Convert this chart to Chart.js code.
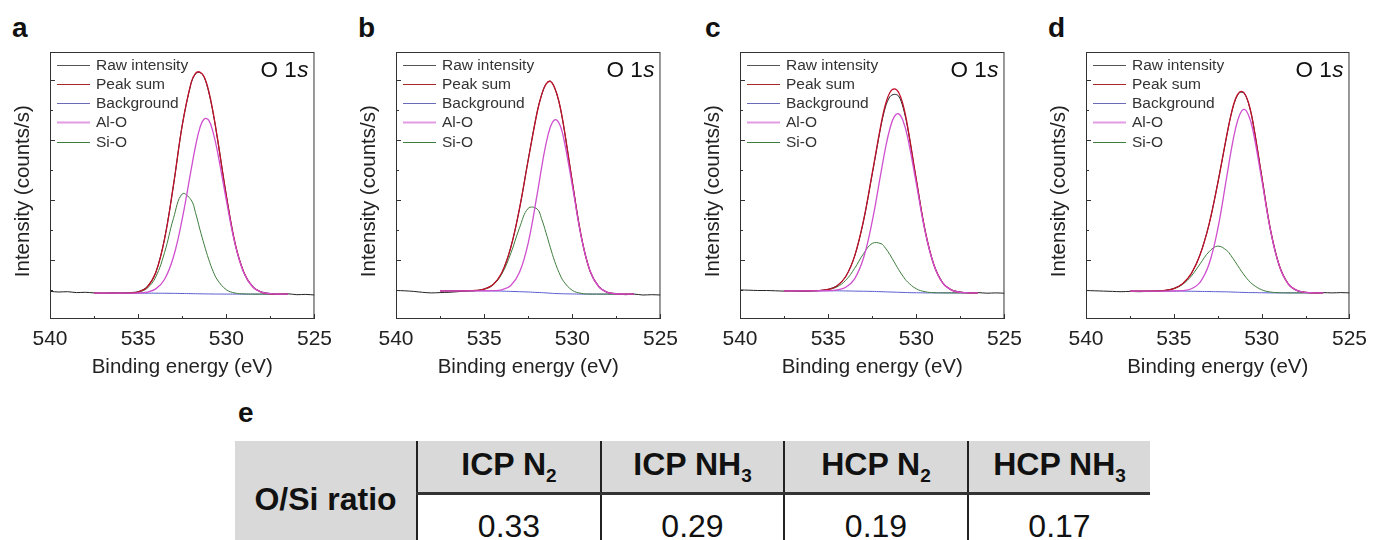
<!DOCTYPE html>
<html>
<head>
<meta charset="utf-8">
<script src="https://cdn.jsdelivr.net/npm/chart.js@4.4.1/dist/chart.umd.min.js"></script>
<style>
  html, body { margin: 0; padding: 0; width: 1375px; height: 540px; overflow: hidden; background: #fff; }
  body { position: relative; font-family: Arial, 'Liberation Sans', sans-serif; color: #111; }
  .panel { position: absolute; top: 0; height: 390px; }
  .letter { position: absolute; font-weight: bold; font-size: 28px; line-height: 28px; color: #111; }
  table.ratio { position: absolute; left: 235px; top: 441px; border-collapse: collapse; table-layout: fixed; width: 915px; }
  table.ratio th, table.ratio td { padding: 0; text-align: center; line-height: 1; color: #111; }
  table.ratio th { font-weight: bold; font-size: 32px; background: #d9d9d9; height: 51px; border-left: 2px solid #222; border-bottom: 3px solid #333; }
  table.ratio th.rowhead { border-left: none; border-bottom: none; border-right: 2px solid #222; vertical-align: middle; }
  table.ratio td { font-size: 32px; height: 62px; border-left: 2px solid #222; background: #fff; }
  table.ratio .sub { font-size: 19px; vertical-align: -7px; }
</style>
</head>
<body>
<div class="letter" style="left:12px;top:14px">a</div>
<div class="letter" style="left:358px;top:14px">b</div>
<div class="letter" style="left:705px;top:14px">c</div>
<div class="letter" style="left:1048px;top:14px">d</div>
<div class="letter" style="left:238px;top:399px">e</div>

<div class="panel" style="left:0;width:340px"><canvas id="chart-a"></canvas></div>
<div class="panel" style="left:346px;width:340px"><canvas id="chart-b"></canvas></div>
<div class="panel" style="left:690px;width:340px"><canvas id="chart-c"></canvas></div>
<div class="panel" style="left:1036px;width:339px"><canvas id="chart-d"></canvas></div>

<table class="ratio" id="ratio-table"></table>

<script>
// binding energy grids (eV)
const rawEnergy = [540, 539.5, 539, 538.5, 538, 537.5, 537, 536.5, 536, 535.5, 535, 534.5, 534, 533.5, 533, 532.5, 532, 531.75, 531.5, 531.25, 531, 530.75, 530.5, 530, 529.5, 529, 528.5, 528, 527.5, 527, 526.5, 526, 525.5, 525];
const fitEnergy = [537.5, 537, 536.5, 536, 535.5, 535, 534.5, 534, 533.5, 533, 532.5, 532, 531.75, 531.5, 531.25, 531, 530.75, 530.5, 530, 529.5, 529, 528.5, 528, 527.5, 527, 526.5];

const seriesNames = ['Raw intensity', 'Peak sum', 'Background', 'Al-O', 'Si-O'];
const lineColors = ['#222222', '#c0102a', '#5a5ad0', '#cf4fcf', '#3d7d3d'];
const legendColors = ['#555555', '#a82828', '#6a6ab8', '#e49ae4', '#3d7d3d'];

// (a) ICP N2
const rawA = [-0.05, -0.07, -0.06, -0.09, -0.08, -0.1, -0.12, -0.1, -0.11, -0.09, -0.06, 0.1, 0.58, 1.72, 3.47, 5.5, 6.88, 7.2, 7.25, 7.08, 6.6, 5.9, 5.03, 3.15, 1.53, 0.58, 0.11, -0.07, -0.12, -0.15, -0.13, -0.16, -0.15, -0.17];
const sumA = [-0.11, -0.11, -0.11, -0.11, -0.105, -0.07, 0.085, 0.58, 1.7, 3.49, 5.48, 6.9, 7.22, 7.26, 7.1, 6.63, 5.92, 5.04, 3.14, 1.55, 0.57, 0.1, -0.08, -0.13, -0.14, -0.14];
const bgA = [-0.11, -0.11, -0.11, -0.11, -0.11, -0.11, -0.11, -0.11, -0.112, -0.115, -0.12, -0.125, -0.128, -0.13, -0.133, -0.135, -0.137, -0.138, -0.14, -0.14, -0.14, -0.14, -0.14, -0.14, -0.14, -0.14];
const alA = [-0.11, -0.11, -0.11, -0.11, -0.11, -0.103, -0.075, 0.034, 0.354, 1.095, 2.37, 3.99, 4.78, 5.4, 5.7, 5.66, 5.25, 4.6, 2.99, 1.515, 0.56, 0.096, -0.077, -0.126, -0.138, -0.14];
const siA = [-0.11, -0.11, -0.11, -0.109, -0.105, -0.076, 0.05, 0.435, 1.25, 2.38, 3.2, 3.0, 2.58, 2.02, 1.5, 1.02, 0.62, 0.33, 0.006, -0.105, -0.134, -0.14, -0.14, -0.14, -0.14, -0.14];

// (b) ICP NH3
const rawB = [-0.02, -0.03, -0.05, -0.08, -0.1, -0.09, -0.08, -0.06, -0.04, -0.03, 0.03, 0.18, 0.56, 1.4, 2.69, 4.35, 5.92, 6.48, 6.86, 6.96, 6.72, 6.25, 5.49, 3.6, 1.8, 0.63, 0.12, -0.09, -0.12, -0.16, -0.14, -0.17, -0.16, -0.17];
const sumB = [-0.03, -0.03, -0.03, -0.028, -0.019, 0.024, 0.172, 0.573, 1.39, 2.7, 4.33, 5.905, 6.49, 6.85, 6.95, 6.74, 6.255, 5.5, 3.595, 1.81, 0.64, 0.11, -0.08, -0.13, -0.138, -0.14];
const bgB = [-0.03, -0.03, -0.03, -0.03, -0.03, -0.03, -0.035, -0.04, -0.05, -0.06, -0.07, -0.085, -0.09, -0.1, -0.11, -0.12, -0.125, -0.13, -0.135, -0.14, -0.14, -0.14, -0.14, -0.14, -0.14, -0.14];
const alB = [-0.03, -0.03, -0.03, -0.03, -0.03, -0.029, -0.027, 0.003, 0.14, 0.576, 1.57, 3.165, 4.05, 4.85, 5.42, 5.67, 5.555, 5.08, 3.475, 1.78, 0.64, 0.106, -0.081, -0.129, -0.138, -0.14];
const siB = [-0.03, -0.03, -0.03, -0.028, -0.019, 0.023, 0.164, 0.53, 1.2, 2.06, 2.72, 2.7, 2.38, 1.92, 1.42, 0.95, 0.575, 0.29, -0.015, -0.114, -0.138, -0.14, -0.14, -0.14, -0.14, -0.14];

// (c) HCP N2
const rawC = [0, -0.01, -0.02, -0.02, -0.03, -0.04, -0.03, -0.05, -0.04, -0.02, 0.02, 0.14, 0.45, 1.12, 2.28, 3.86, 5.48, 6.1, 6.44, 6.52, 6.46, 6.08, 5.43, 3.66, 1.97, 0.83, 0.24, 0, -0.07, -0.1, -0.09, -0.11, -0.1, -0.11];
const sumC = [-0.03, -0.03, -0.03, -0.028, -0.021, 0.014, 0.13, 0.446, 1.126, 2.299, 3.89, 5.526, 6.18, 6.58, 6.7, 6.58, 6.166, 5.467, 3.676, 1.978, 0.831, 0.23, -0.005, -0.079, -0.096, -0.099];
const bgC = [-0.03, -0.03, -0.03, -0.03, -0.03, -0.03, -0.03, -0.035, -0.04, -0.045, -0.05, -0.06, -0.065, -0.07, -0.075, -0.08, -0.085, -0.09, -0.095, -0.1, -0.1, -0.1, -0.1, -0.1, -0.1, -0.1];
const alC = [-0.03, -0.03, -0.03, -0.03, -0.029, -0.024, -0.001, 0.089, 0.37, 1.053, 2.29, 3.926, 4.725, 5.37, 5.775, 5.87, 5.63, 5.11, 3.545, 1.94, 0.823, 0.228, -0.007, -0.079, -0.096, -0.099];
const siC = [-0.03, -0.03, -0.03, -0.0285, -0.022, 0.008, 0.101, 0.322, 0.716, 1.201, 1.55, 1.54, 1.391, 1.176, 0.925, 0.676, 0.451, 0.267, 0.036, -0.062, -0.092, -0.0985, -0.1, -0.1, -0.1, -0.1];

// (d) HCP NH3
const rawD = [-0.02, -0.03, -0.04, -0.05, -0.06, -0.05, -0.06, -0.05, -0.04, -0.02, 0.05, 0.2, 0.55, 1.19, 2.17, 3.56, 5.1, 5.82, 6.33, 6.58, 6.56, 6.22, 5.6, 3.8, 2, 0.82, 0.22, -0.02, -0.08, -0.1, -0.09, -0.1, -0.09, -0.1];
const sumD = [-0.04, -0.04, -0.039, -0.035, -0.018, 0.042, 0.203, 0.549, 1.181, 2.178, 3.55, 5.111, 5.816, 6.354, 6.6, 6.57, 6.239, 5.6, 3.794, 2.019, 0.815, 0.211, -0.016, -0.082, -0.097, -0.1];
const bgD = [-0.04, -0.04, -0.04, -0.04, -0.04, -0.04, -0.04, -0.045, -0.05, -0.055, -0.06, -0.065, -0.07, -0.075, -0.08, -0.085, -0.09, -0.09, -0.095, -0.1, -0.1, -0.1, -0.1, -0.1, -0.1, -0.1];
const alD = [-0.04, -0.04, -0.04, -0.04, -0.04, -0.037, -0.022, 0.039, 0.26, 0.853, 2.03, 3.725, 4.6, 5.345, 5.84, 6.015, 5.83, 5.33, 3.695, 1.99, 0.808, 0.21, -0.016, -0.082, -0.097, -0.1];
const siD = [-0.04, -0.04, -0.039, -0.035, -0.018, 0.039, 0.185, 0.465, 0.871, 1.27, 1.46, 1.321, 1.146, 0.934, 0.71, 0.499, 0.319, 0.18, 0.004, -0.071, -0.093, -0.099, -0.1, -0.1, -0.1, -0.1];

// (e) table
const sampleNames = [['ICP N', '2'], ['ICP NH', '3'], ['HCP N', '2'], ['HCP NH', '3']];
const oSiRatio = ['0.33', '0.29', '0.19', '0.17'];

const FONT = "Arial, 'Liberation Sans', sans-serif";
Chart.defaults.font.family = FONT;
Chart.defaults.color = '#222';

// box, inward ticks, legend and the "O 1s" tag
const panelDecor = {
  id: 'panelDecor',
  afterDraw(chart) {
    const { ctx, chartArea: a, scales: { x, y } } = chart;
    ctx.save();
    ctx.strokeStyle = '#333';
    ctx.lineWidth = 1;
    ctx.strokeRect(a.left + 0.5, a.top + 0.5, a.right - a.left - 1, a.bottom - a.top - 1);

    ctx.beginPath();
    x.ticks.forEach((t, i) => {
      const px = Math.round(x.getPixelForValue(t.value)) + 0.5;
      ctx.moveTo(px, a.bottom);
      ctx.lineTo(px, a.bottom - 5);
      if (i < x.ticks.length - 1) {
        const mid = Math.round(x.getPixelForValue((t.value + x.ticks[i + 1].value) / 2)) + 0.5;
        ctx.moveTo(mid, a.bottom);
        ctx.lineTo(mid, a.bottom - 3);
      }
    });
    y.ticks.filter(t => Number.isInteger(t.value)).forEach(t => {
      const py = Math.round(y.getPixelForValue(t.value)) + 0.5;
      ctx.moveTo(a.left, py);
      ctx.lineTo(a.left + (Math.abs(t.value) % 2 === 1 ? 5 : 3), py);
    });
    ctx.stroke();

    ctx.font = '15.5px ' + FONT;
    ctx.textBaseline = 'middle';
    ctx.textAlign = 'left';
    seriesNames.forEach((name, i) => {
      const ly = Math.round(a.top + 12.5 + i * 19.3) + 0.5;
      ctx.strokeStyle = legendColors[i];
      ctx.lineWidth = i === 3 ? 2 : 1;
      ctx.beginPath();
      ctx.moveTo(a.left + 7, ly);
      ctx.lineTo(a.left + 40, ly);
      ctx.stroke();
      ctx.fillStyle = '#333';
      ctx.fillText(name, a.left + 46, ly + 0.5);
    });

    ctx.fillStyle = '#111';
    ctx.textBaseline = 'alphabetic';
    ctx.textAlign = 'right';
    ctx.font = 'italic 22.5px ' + FONT;
    const sw = ctx.measureText('s').width;
    ctx.fillText('s', a.right - 6, a.top + 25);
    ctx.font = '22.5px ' + FONT;
    ctx.fillText('O 1', a.right - 6 - sw - 0.5, a.top + 25);
    ctx.restore();
  }
};

function drawPanel(id, raw, sum, bg, al, si, rightPad) {
  const series = [raw, sum, bg, al, si];
  const drawOrder = [4, 1, 3, 0, 2];
  const widths = [1, 1.3, 1, 1.3, 1];
  const datasets = series.map((vals, i) => ({
    label: seriesNames[i],
    data: (i === 0 ? rawEnergy : fitEnergy).map((e, j) => ({ x: e, y: vals[j] })),
    borderColor: lineColors[i],
    borderWidth: widths[i],
    order: drawOrder[i],
    tension: i === 0 ? 0.3 : 0.4,
    pointRadius: 0,
    fill: false
  }));

  return new Chart(document.getElementById(id), {
    type: 'line',
    data: { datasets },
    options: {
      responsive: true,
      maintainAspectRatio: false,
      animation: false,
      events: [],
      layout: { padding: { top: 52, right: rightPad, left: 0, bottom: 0 } },
      plugins: { legend: { display: false }, tooltip: { enabled: false } },
      scales: {
        x: {
          type: 'linear', min: 525, max: 540, reverse: true,
          grid: { display: false, drawTicks: false },
          border: { display: false },
          ticks: { stepSize: 5, padding: 8, color: '#222', font: { size: 21 } },
          title: { display: true, text: 'Binding energy (eV)', color: '#222', font: { size: 20.5 }, padding: { top: 0, bottom: 10 } },
          afterFit: s => { s.height = 71; }
        },
        y: {
          min: -0.97, max: 7.93,
          grid: { display: false, drawTicks: false },
          border: { display: false },
          ticks: { display: false, stepSize: 1 },
          title: { display: true, text: 'Intensity (counts/s)  ', color: '#222', font: { size: 20.5 }, padding: { top: 11, bottom: 0 } },
          afterFit: s => { s.width = 50; }
        }
      }
    },
    plugins: [panelDecor]
  });
}

drawPanel('chart-a', rawA, sumA, bgA, alA, siA, 20);
drawPanel('chart-b', rawB, sumB, bgB, alB, siB, 21);
drawPanel('chart-c', rawC, sumC, bgC, alC, siC, 20);
drawPanel('chart-d', rawD, sumD, bgD, alD, siD, 20);

// ratio table
const table = document.getElementById('ratio-table');
const colWidths = [182, 184, 183, 184, 182];
table.innerHTML =
  '<colgroup>' + colWidths.map(w => `<col style="width:${w}px">`).join('') + '</colgroup>' +
  '<tr><th class="rowhead" rowspan="2">O/Si ratio</th>' +
  sampleNames.map(([main, sub]) => `<th>${main}<span class="sub">${sub}</span></th>`).join('') + '</tr>' +
  '<tr>' + oSiRatio.map(v => `<td>${v}</td>`).join('') + '</tr>';
</script>
</body>
</html>
